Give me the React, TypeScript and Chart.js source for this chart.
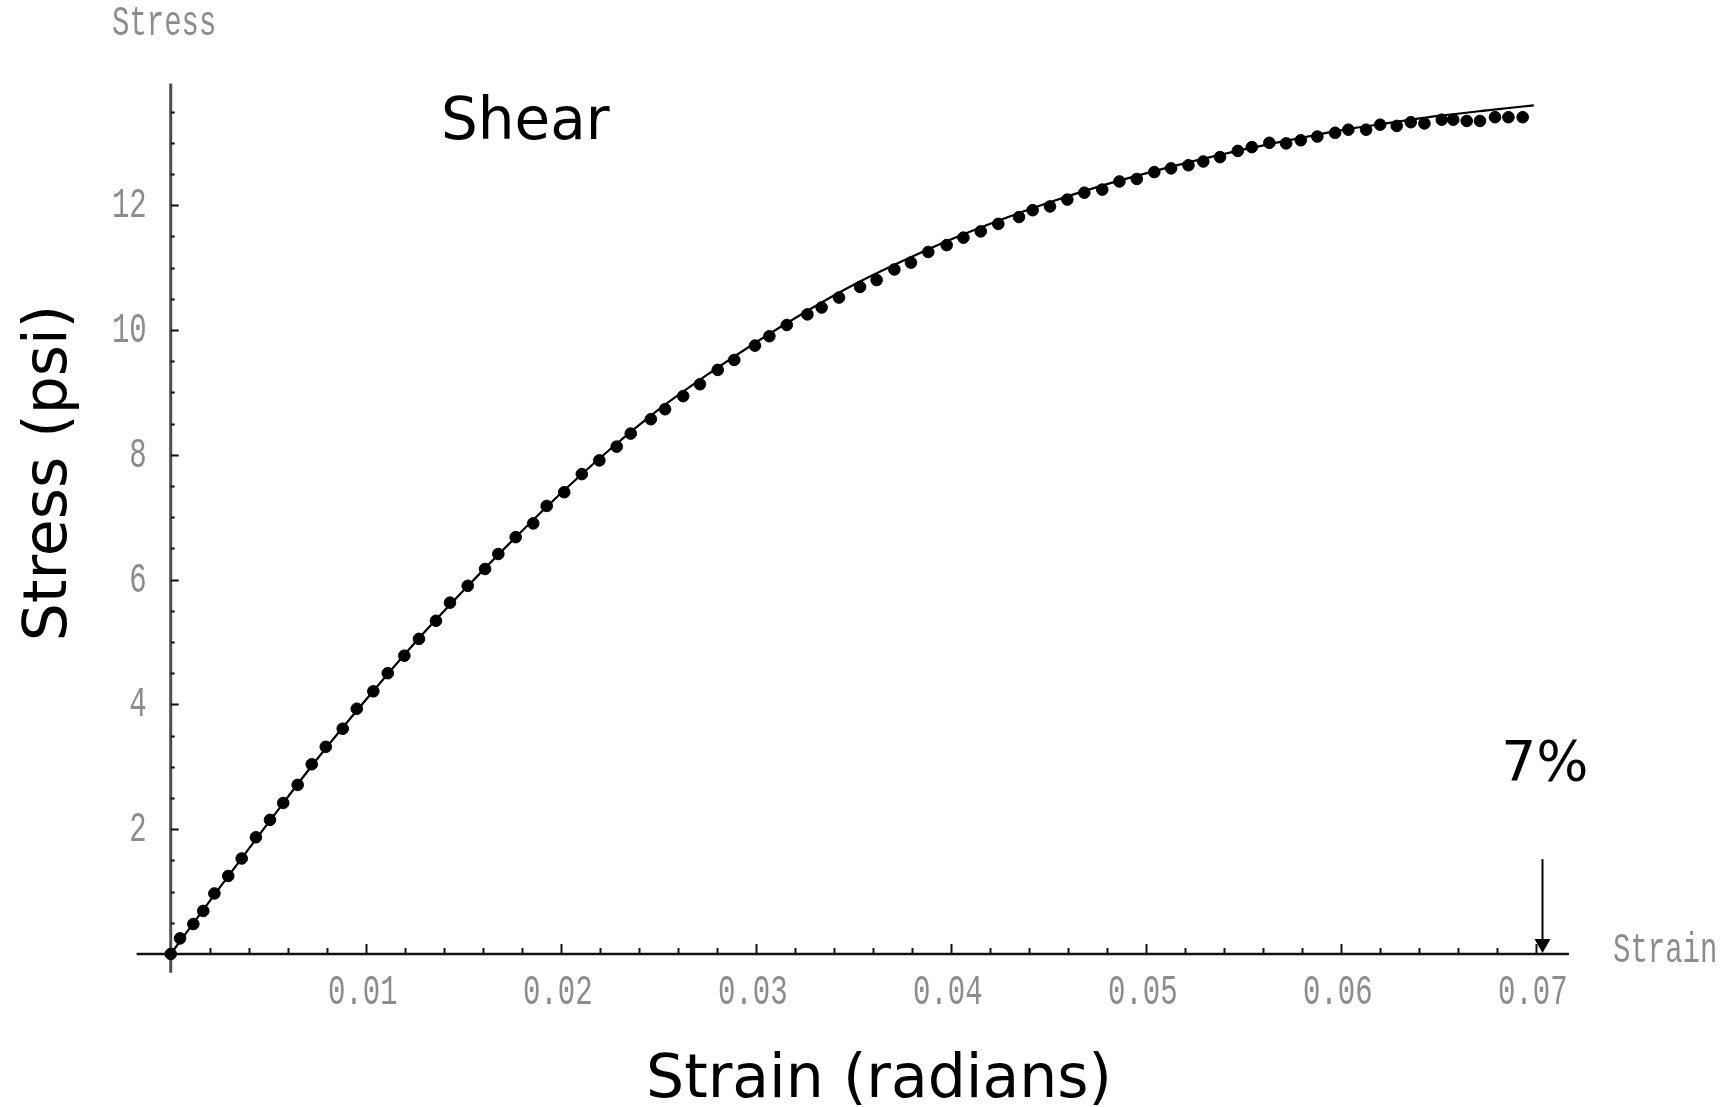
import { useEffect, useRef } from 'react';
import { Chart, registerables } from 'chart.js';

Chart.register(...registerables);

// Measured data points (strain in radians, stress in psi)
const strainValues = [
  0, 0.00048, 0.00116, 0.00167, 0.00224, 0.00295, 0.00364, 0.00437, 0.00509, 0.00577,
  0.00651, 0.00723, 0.00795, 0.00882, 0.00954, 0.01039, 0.01113, 0.01198, 0.01273, 0.0136,
  0.01432, 0.01523, 0.01612, 0.0168, 0.01769, 0.01859, 0.01928, 0.02018, 0.02108, 0.02198,
  0.02287, 0.02359, 0.02462, 0.02535, 0.02628, 0.02714, 0.02805, 0.0289, 0.02996, 0.0307,
  0.03159, 0.03265, 0.03338, 0.03427, 0.03535, 0.0362, 0.03711, 0.03796, 0.03885, 0.03979,
  0.04065, 0.04154, 0.04244, 0.0435, 0.0442, 0.04509, 0.04598, 0.04685, 0.04777, 0.04865,
  0.04954, 0.05044, 0.0513, 0.05219, 0.05295, 0.05381, 0.05472, 0.05544, 0.05634, 0.0572,
  0.05795, 0.0588, 0.05971, 0.06039, 0.0613, 0.06202, 0.06287, 0.06359, 0.06429, 0.06518,
  0.06577, 0.06646, 0.06714, 0.06791, 0.0686, 0.06933,
];
const stressValues = [
  0, 0.25, 0.48, 0.69, 0.97, 1.25, 1.53, 1.87, 2.15, 2.42,
  2.71, 3.04, 3.32, 3.61, 3.93, 4.21, 4.5, 4.78, 5.05, 5.34,
  5.63, 5.9, 6.17, 6.41, 6.68, 6.9, 7.18, 7.4, 7.69, 7.91,
  8.13, 8.34, 8.57, 8.73, 8.94, 9.13, 9.36, 9.52, 9.75, 9.9,
  10.08, 10.25, 10.36, 10.52, 10.69, 10.8, 10.97, 11.08, 11.25, 11.36,
  11.48, 11.58, 11.7, 11.81, 11.92, 11.98, 12.09, 12.2, 12.25, 12.38,
  12.42, 12.53, 12.59, 12.64, 12.7, 12.77, 12.87, 12.93, 13.0, 12.99,
  13.04, 13.1, 13.16, 13.21, 13.21, 13.29, 13.27, 13.33, 13.31, 13.37,
  13.37, 13.35, 13.35, 13.41, 13.41, 13.41,
];

// Fitted curve
const fitStrain = [
  0, 0.0025, 0.005, 0.0075, 0.01, 0.0125, 0.015, 0.0175, 0.02, 0.0225,
  0.025, 0.0275, 0.03, 0.0325, 0.035, 0.0375, 0.04, 0.0425, 0.045, 0.0475,
  0.05, 0.0525, 0.055, 0.0575, 0.06, 0.0625, 0.065, 0.0675, 0.0699,
];
const fitStress = [
  0, 1.06, 2.1, 3.12, 4.07, 4.98, 5.82, 6.62, 7.38, 8.08,
  8.72, 9.28, 9.8, 10.28, 10.72, 11.1, 11.45, 11.76, 12.04, 12.29,
  12.51, 12.71, 12.89, 13.05, 13.2, 13.32, 13.43, 13.52, 13.6,
];

// Axis ticks
const xTickValues = [0.01, 0.02, 0.03, 0.04, 0.05, 0.06, 0.07];
const xTickLabels = ['0.01', '0.02', '0.03', '0.04', '0.05', '0.06', '0.07'];
const yTickValues = [2, 4, 6, 8, 10, 12];
const yTickLabels = ['2', '4', '6', '8', '10', '12'];
const X_MINOR_STEP = 0.002;
const X_MINOR_LAST = 0.07;
const Y_MINOR_STEP = 0.5;
const Y_MINOR_LAST = 13.5;

// Axis extents
const X_MIN = -0.00175;
const X_MAX = 0.0717;
const Y_MIN = -0.3;
const Y_MAX = 13.95;

// Arrow annotation (7% strain)
const ARROW_STRAIN = 0.0703;
const ARROW_TOP_STRESS = 1.52;

const MONO = '"Liberation Mono", "Courier New", monospace';
const SANS = '"DejaVu Sans", Verdana, sans-serif';
const GRAY = '#8c8c8c';

function stretchedText(
  ctx: CanvasRenderingContext2D,
  text: string,
  x: number,
  baseline: number,
  align: CanvasTextAlign,
  size: number,
  sy: number,
) {
  ctx.save();
  ctx.translate(x, baseline);
  ctx.scale(1, sy);
  ctx.font = `${size}px ${MONO}`;
  ctx.textAlign = align;
  ctx.textBaseline = 'alphabetic';
  ctx.fillStyle = GRAY;
  ctx.fillText(text, 0, 0);
  ctx.restore();
}

const axesPlugin = {
  id: 'mathematicaAxes',
  beforeDatasetsDraw(chart: any) {
    const ctx: CanvasRenderingContext2D = chart.ctx;
    const xs = chart.scales.x;
    const ys = chart.scales.y;
    const x0 = xs.getPixelForValue(0);
    const y0 = ys.getPixelForValue(0);
    ctx.save();

    // y axis
    ctx.strokeStyle = '#4d4d4d';
    ctx.lineWidth = 3;
    ctx.beginPath();
    ctx.moveTo(x0, ys.getPixelForValue(Y_MAX));
    ctx.lineTo(x0, ys.getPixelForValue(Y_MIN));
    ctx.stroke();

    // x axis
    ctx.strokeStyle = '#111';
    ctx.lineWidth = 2.5;
    ctx.beginPath();
    ctx.moveTo(xs.getPixelForValue(X_MIN), y0);
    ctx.lineTo(xs.getPixelForValue(X_MAX), y0);
    ctx.stroke();

    // x tick marks
    ctx.strokeStyle = '#111';
    ctx.lineWidth = 2;
    const nx = Math.round(X_MINOR_LAST / X_MINOR_STEP);
    for (let i = 1; i <= nx; i++) {
      const v = i * X_MINOR_STEP;
      const major = i % 5 === 0;
      const px = Math.round(xs.getPixelForValue(v)) + 0.5;
      ctx.beginPath();
      ctx.moveTo(px, y0);
      ctx.lineTo(px, y0 - (major ? 10 : 6));
      ctx.stroke();
    }

    // y tick marks
    const ny = Math.round(Y_MINOR_LAST / Y_MINOR_STEP);
    for (let i = 1; i <= ny; i++) {
      const v = i * Y_MINOR_STEP;
      const major = i % 4 === 0;
      const py = Math.round(ys.getPixelForValue(v)) + 0.5;
      ctx.beginPath();
      ctx.moveTo(x0, py);
      ctx.lineTo(x0 + (major ? 8 : 4), py);
      ctx.stroke();
    }

    // tick labels
    xTickValues.forEach((v, i) => {
      stretchedText(ctx, xTickLabels[i], xs.getPixelForValue(v) - 3, y0 + 50, 'center', 29, 1.45);
    });
    yTickValues.forEach((v, i) => {
      stretchedText(ctx, yTickLabels[i], x0 - 24, ys.getPixelForValue(v) + 12, 'right', 29, 1.45);
    });

    // axis name labels (Mathematica style)
    stretchedText(ctx, 'Stress', 112, 35, 'left', 29, 1.45);
    stretchedText(ctx, 'Strain', 1613, 962, 'left', 29, 1.45);

    ctx.restore();
  },
  afterDraw(chart: any) {
    const ctx: CanvasRenderingContext2D = chart.ctx;
    const xs = chart.scales.x;
    const ys = chart.scales.y;
    ctx.save();

    // arrow
    const ax = Math.round(xs.getPixelForValue(ARROW_STRAIN)) + 0.5;
    const aTop = ys.getPixelForValue(ARROW_TOP_STRESS);
    const aTip = ys.getPixelForValue(0) - 1;
    ctx.strokeStyle = '#000';
    ctx.fillStyle = '#000';
    ctx.lineWidth = 2;
    ctx.beginPath();
    ctx.moveTo(ax, aTop);
    ctx.lineTo(ax, aTip - 10);
    ctx.stroke();
    ctx.beginPath();
    ctx.moveTo(ax - 8, aTip - 14);
    ctx.lineTo(ax + 8, aTip - 14);
    ctx.lineTo(ax, aTip);
    ctx.closePath();
    ctx.fill();

    // big labels
    ctx.fillStyle = '#000';
    ctx.textBaseline = 'alphabetic';
    ctx.font = `58px ${SANS}`;
    ctx.textAlign = 'left';
    ctx.fillText('Shear', 441, 139);

    ctx.font = `55px ${SANS}`;
    ctx.textAlign = 'center';
    ctx.fillText('7%', 1545, 780);

    ctx.font = `60px ${SANS}`;
    ctx.textAlign = 'center';
    ctx.fillText('Strain (radians)', 879, 1097);

    ctx.save();
    ctx.translate(66, 473);
    ctx.rotate(-Math.PI / 2);
    ctx.font = `60px ${SANS}`;
    ctx.textAlign = 'center';
    ctx.fillText('Stress (psi)', 0, 0);
    ctx.restore();

    ctx.restore();
  },
};

export default function App() {
  const canvasRef = useRef<HTMLCanvasElement | null>(null);

  useEffect(() => {
    document.body.style.margin = '0';
    const canvas = canvasRef.current;
    if (!canvas) return;

    const points = strainValues.map((x, i) => ({ x, y: stressValues[i] }));
    const fit = fitStrain.map((x, i) => ({ x, y: fitStress[i] }));

    const chart = new Chart(canvas, {
      type: 'scatter',
      data: {
        datasets: [
          {
            type: 'line',
            label: 'Fit',
            data: fit,
            borderColor: '#000',
            borderWidth: 2.2,
            pointRadius: 0,
            fill: false,
            cubicInterpolationMode: 'monotone',
            clip: false,
          } as any,
          {
            type: 'scatter',
            label: 'Measured',
            data: points,
            backgroundColor: '#000',
            borderColor: '#000',
            borderWidth: 1,
            pointRadius: 5.8,
            clip: false,
          } as any,
        ],
      },
      options: {
        responsive: false,
        animation: false,
        devicePixelRatio: 1,
        layout: {
          padding: { left: 136.6, right: 167.1, top: 83.5, bottom: 134.3 },
        },
        plugins: {
          legend: { display: false },
          tooltip: { enabled: false },
        },
        scales: {
          x: { type: 'linear', min: X_MIN, max: X_MAX, display: false },
          y: { type: 'linear', min: Y_MIN, max: Y_MAX, display: false },
        },
      },
      plugins: [axesPlugin],
    });

    return () => chart.destroy();
  }, []);

  return (
    <div style={{ position: 'absolute', left: 0, top: 0, width: 1736, height: 1107, background: '#fff' }}>
      <canvas ref={canvasRef} width={1736} height={1107} style={{ display: 'block' }} />
    </div>
  );
}
